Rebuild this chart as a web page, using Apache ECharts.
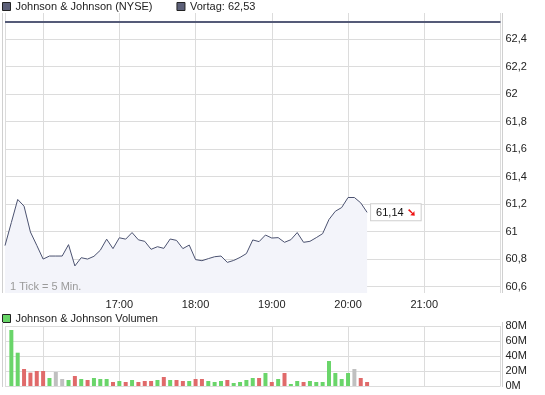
<!DOCTYPE html>
<html>
<head>
<meta charset="utf-8">
<script src="https://cdn.jsdelivr.net/npm/echarts@6/dist/echarts.min.js"></script>
<style>html,body{margin:0;padding:0;background:#fff}#c{width:545px;height:395px}</style>
</head>
<body>
<div id="c"></div>
<script>
// ---- data ----
var sessionStart = '15:30';
var sessionEnd = '22:00';
var hourLabels = ['17:00', '18:00', '19:00', '20:00', '21:00'];
var hourGrid = ['15:30', '16:00', '17:00', '18:00', '19:00', '20:00', '21:00', '22:00'];
var priceTicks = [60.6, 60.8, 61.0, 61.2, 61.4, 61.6, 61.8, 62.0, 62.2, 62.4];
var prevClose = 62.53;
var seriesName = 'Johnson & Johnson (NYSE)';
var prevName = 'Vortag: 62,53';
var volName = 'Johnson & Johnson Volumen';
var tickNote = '1 Tick = 5 Min.';
// prices every 5 min from 15:30
var prices = [60.898, 61.066, 61.234, 61.185, 60.997, 60.900, 60.800, 60.822, 60.822, 60.822,
  60.905, 60.750, 60.810, 60.800, 60.820, 60.864, 60.945, 60.876, 60.955, 60.945,
  60.993, 60.940, 60.929, 60.871, 60.890, 60.878, 60.946, 60.936, 60.876, 60.902,
  60.796, 60.788, 60.803, 60.817, 60.822, 60.776, 60.790, 60.812, 60.840, 60.939,
  60.927, 60.975, 60.953, 60.956, 60.922, 60.941, 60.993, 60.922, 60.929, 60.956,
  60.985, 61.088, 61.148, 61.175, 61.248, 61.248, 61.209, 61.14];
// volumes (millions) from 15:35
var volumes = [74.7, 44.4, 22.7, 17.8, 20, 20, 10.7, 18.7, 9.3, 8,
  13.3, 9.3, 8, 10.7, 9.3, 9.3, 5.3, 6.7, 5.3, 8,
  5.3, 6.7, 6.7, 8, 12, 8, 8, 6.7, 6.7, 9.3,
  9.3, 6.7, 5.3, 6.7, 8, 4, 5.3, 8, 10.7, 10.7,
  17.3, 5.3, 9.3, 17.3, 2.7, 6.7, 5.3, 6.7, 5.3, 5.3,
  33.3, 17.3, 9.3, 17.3, 22.7, 10.7, 5.3];
var volDir = ['u','u','d','d','d','d','u','n','n','u',
  'd','u','d','u','u','u','d','u','d','u',
  'd','d','d','u','d','u','d','d','u','d',
  'd','u','u','u','d','u','u','u','u','d',
  'u','d','u','d','u','u','d','u','u','u',
  'u','u','u','u','n','d','d'];

// ---- build ----
function toMin(t){var p=t.split(':');return (+p[0])*60+(+p[1]);}
function fmtT(m){var h=Math.floor(m/60),mm=m%60;return h+':'+(mm<10?'0':'')+mm;}
var times = [];
for (var m = toMin(sessionStart); m <= toMin(sessionEnd); m += 5) times.push(fmtT(m));
var dirColor = {u:'#6ad56a', d:'#e06a6a', n:'#c0c0c0'};
var volData = ['-'].concat(volumes.map(function(v,i){
  return {value: v*1e6, itemStyle:{color: dirColor[volDir[i]]}};
}));
function comma(v){return String(v).replace('.', ',');}
var FONT = '"Liberation Sans", Arial, sans-serif';
var GL = 5, GR = 44.5;

var chart = echarts.init(document.getElementById('c'), null, {renderer:'canvas'});
chart.setOption({
  animation: false,
  textStyle: {fontFamily: FONT},
  legend: [{
    left: 2, top: 1, padding: 0, itemWidth: 8, itemHeight: 8, itemGap: 24,
    textStyle: {fontSize: 11, color: '#222', fontFamily: FONT},
    data: [
      {name: seriesName, icon: 'rect', itemStyle: {color: '#5c6078', borderColor: '#222', borderWidth: 1}},
      {name: prevName, icon: 'rect', itemStyle: {color: '#5c6078', borderColor: '#222', borderWidth: 1}}
    ]
  }, {
    left: 2, top: 313, padding: 0, itemWidth: 8, itemHeight: 8,
    textStyle: {fontSize: 11, color: '#222', fontFamily: FONT},
    data: [{name: volName, icon: 'rect', itemStyle: {color: '#66d466', borderColor: '#222', borderWidth: 1}}]
  }],
  grid: [
    {left: GL, right: GR, top: 13, height: 280},
    {left: GL, right: GR, top: 326, height: 60}
  ],
  xAxis: [{
    gridIndex: 0, type: 'category', data: times, boundaryGap: false,
    axisLine: {show: false}, axisTick: {show: false},
    axisLabel: {
      interval: function(i, v){ return hourLabels.indexOf(v) >= 0; },
      color: '#222', fontSize: 11, margin: 6, fontFamily: FONT
    },
    splitLine: {show: true, interval: function(i, v){ return hourGrid.indexOf(v) >= 0; },
      lineStyle: {color: '#dcdcdc', width: 1}}
  }, {
    gridIndex: 1, type: 'category', data: times, boundaryGap: false,
    axisLine: {show: false}, axisTick: {show: false}, axisLabel: {show: false},
    splitLine: {show: true, interval: function(i, v){ return hourGrid.indexOf(v) >= 0; },
      lineStyle: {color: '#dcdcdc', width: 1}}
  }],
  yAxis: [{
    gridIndex: 0, type: 'value', position: 'right', min: 60.553, max: 62.591,
    axisLine: {show: false},
    axisTick: {show: false, customValues: priceTicks},
    axisLabel: {customValues: priceTicks, color: '#222', fontSize: 11, margin: 5, fontFamily: FONT,
      formatter: function(v){ return comma(Math.round(v*10)/10); }},
    splitLine: {show: true, lineStyle: {color: '#dcdcdc', width: 1}}
  }, {
    gridIndex: 1, type: 'value', position: 'right', min: 0, max: 80e6, interval: 20e6,
    axisLine: {show: false}, axisTick: {show: false},
    axisLabel: {color: '#222', fontSize: 11, margin: 5, fontFamily: FONT,
      formatter: function(v){ return Math.round(v/1e6) + 'M'; }},
    splitLine: {show: true, lineStyle: {color: '#dcdcdc', width: 1}}
  }],
  graphic: [
    {type: 'line', z: 50, shape: {x1: 2.5, y1: 13, x2: 2.5, y2: 293}, style: {stroke: '#d0d0d0', lineWidth: 1}},
    {type: 'line', z: 50, shape: {x1: 502.5, y1: 13, x2: 502.5, y2: 293}, style: {stroke: '#d0d0d0', lineWidth: 1}},
    {type: 'line', z: 50, shape: {x1: 2.5, y1: 322, x2: 2.5, y2: 387}, style: {stroke: '#d0d0d0', lineWidth: 1}},
    {type: 'line', z: 50, shape: {x1: 502.5, y1: 322, x2: 502.5, y2: 387}, style: {stroke: '#d0d0d0', lineWidth: 1}},
    {type: 'text', z: 100, left: 10, top: 281, style: {text: tickNote, fill: '#9a9a9a', font: '11px "Liberation Sans", Arial, sans-serif'}}
  ],
  series: [{
    name: seriesName, type: 'line', xAxisIndex: 0, yAxisIndex: 0,
    data: prices, symbol: 'none', smooth: false,
    lineStyle: {color: '#4b5270', width: 1},
    itemStyle: {color: '#4b5270'},
    areaStyle: {color: '#f3f4fa', opacity: 1},
    endLabel: {
      show: true, distance: 4,
      formatter: function(p){ return comma(p.value) + ' {a|➘}'; },
      backgroundColor: '#fff', borderColor: '#cfcfcf', borderWidth: 1,
      padding: [3, 5, 2, 5], color: '#111', fontSize: 11, fontFamily: FONT,
      rich: {a: {color: '#ee1111', fontSize: 11, fontWeight: 'bold'}}
    }
  }, {
    name: prevName, type: 'line', xAxisIndex: 0, yAxisIndex: 0, data: [],
    itemStyle: {color: '#5c6078'},
    markLine: {
      silent: true, symbol: 'none', label: {show: false},
      lineStyle: {color: '#555b78', width: 2, type: 'solid'},
      data: [{yAxis: prevClose}]
    }
  }, {
    name: volName, type: 'bar', xAxisIndex: 1, yAxisIndex: 1,
    data: volData, barWidth: 4, itemStyle: {color: '#6ad56a'}
  }]
});
</script>
</body>
</html>
